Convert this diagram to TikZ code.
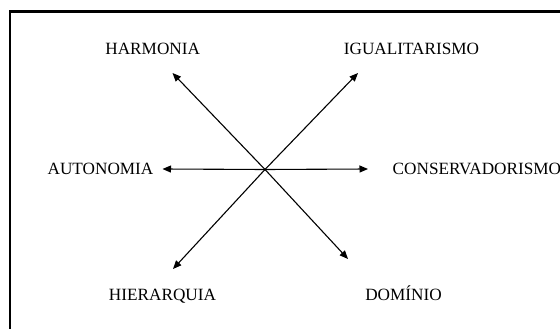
\documentclass[tikz,border=0pt]{standalone}
\usepackage{fontspec}
\setmainfont{Liberation Serif}
\usetikzlibrary{arrows.meta}
\begin{document}
\begin{tikzpicture}[x=1pt,y=-1pt,
  lbl/.style={anchor=base,inner sep=0pt,font=\fontsize{17.2}{20}\selectfont},
  arr/.style={line width=1.1pt,-{Triangle[length=8.5pt,width=7pt]}}]
\useasboundingbox (0,0) rectangle (560,329);
\clip (0,0) rectangle (560,329);
\draw[line width=2.7pt] (10,11.3) rectangle (620,400);
\node[lbl] (harm) at (152.7,55) {HARMONIA};
\node[lbl] (igua) at (411.5,55) {IGUALITARISMO};
\node[lbl] (auto) at (100.5,174.5) {AUTONOMIA};
\node[lbl,anchor=base west] (cons) at (392.5,174.5) {CONSERVADORISMO};
\node[lbl] (hier) at (162.5,300) {HIERARQUIA};
\node[lbl] (domi) at (403.5,300) {DOMÍNIO};
\coordinate (c) at (265,169.5);
\coordinate (th) at (172.5,73);
\coordinate (ti) at (358,73);
\coordinate (ta) at (162.5,169);
\coordinate (tc) at (368,169);
\coordinate (tr) at (173,269);
\coordinate (td) at (348,259);
\draw[arr] (c) -- (th);
\draw[arr] (c) -- (ti);
\draw[arr] (c) -- (ta);
\draw[arr] (c) -- (tc);
\draw[arr] (c) -- (tr);
\draw[arr] (c) -- (td);
\end{tikzpicture}
\end{document}
